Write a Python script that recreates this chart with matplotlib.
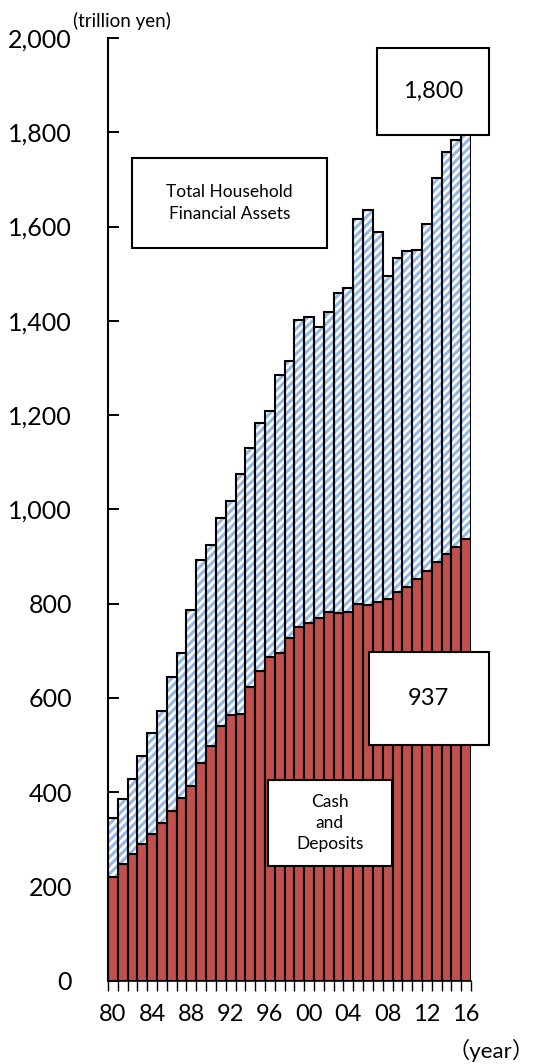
import numpy as np
import matplotlib
matplotlib.use("Agg")
import matplotlib.pyplot as plt
from matplotlib.patches import Rectangle

plt.rcParams['font.family'] = ['Lato', 'DejaVu Sans']
plt.rcParams['hatch.linewidth'] = 2.2

# household financial assets, trillion yen
years = list(range(1980, 2017))
total = [344, 385, 428, 477, 526, 572, 643, 696, 786, 892,
         924, 981, 1018, 1075, 1131, 1182, 1208, 1285, 1315, 1402,
         1409, 1387, 1419, 1458, 1469, 1615, 1636, 1589, 1496, 1534,
         1548, 1550, 1605, 1702, 1759, 1784, 1800]
cash = [219, 247, 268, 289, 311, 334, 360, 388, 413, 461,
        498, 539, 563, 565, 623, 657, 687, 696, 727, 751,
        758, 770, 782, 780, 783, 800, 796, 803, 810, 824,
        836, 851, 869, 889, 904, 920, 937]
year_labels = [str(y)[2:] for y in years if y % 4 == 0]
yticks = list(range(0, 2001, 200))

W, H = 538, 1064
fig = plt.figure(figsize=(W / 100, H / 100), dpi=100)
ax = fig.add_axes([108 / W, 1 - 980.5 / H, (471 - 108) / W, (980.5 - 38) / H])

x = np.arange(len(years))
cash = np.array(cash)
other = np.array(total) - cash

red = '#C0504D'
blue = '#95B8E4'

ax.bar(x, cash, width=1.0, color=red, edgecolor='black', linewidth=1.5, zorder=2)
ax.bar(x, other, bottom=cash, width=1.0, color='white', edgecolor=blue,
       hatch='////', linewidth=0, zorder=2)
ax.bar(x, other, bottom=cash, width=1.0, fill=False, edgecolor='black',
       linewidth=1.5, zorder=3)

ax.set_xlim(-0.5, len(years) - 0.5)
ax.set_ylim(0, 2000)

ax.spines['top'].set_visible(False)
ax.spines['right'].set_visible(False)
ax.spines['left'].set_linewidth(1.5)
ax.spines['bottom'].set_linewidth(1.2)

ax.set_yticks(yticks)
ax.set_yticklabels([f'{v:,}' for v in yticks])
ax.tick_params(axis='y', direction='in', length=8, width=1.4, pad=26,
               labelsize=18)

ax.set_xticks([i for i, y in enumerate(years) if y % 4 == 0])
ax.set_xticklabels(year_labels)
ax.set_xticks(np.arange(-0.5, len(years), 1.0), minor=True)
ax.tick_params(axis='x', which='major', length=0, pad=17, labelsize=17)
ax.tick_params(axis='x', which='minor', direction='out', length=7, width=1.0)

fig.text(73 / W, 1 - 27 / H, '(trillion yen)', fontsize=13.5, va='baseline')
fig.text(535 / W, 1 - 1050 / H, '（year）', fontsize=16, ha='right',
         va='center', family=['Lato', 'Noto Sans CJK JP'])


def box(x0, y0, x1, y1, text, size):
    fig.add_artist(Rectangle((x0 / W, 1 - y1 / H), (x1 - x0) / W, (y1 - y0) / H,
                             transform=fig.transFigure, facecolor='white',
                             edgecolor='black', linewidth=1.5, zorder=5))
    fig.text((x0 + x1) / 2 / W, 1 - (y0 + y1) / 2 / H, text, fontsize=size,
             ha='center', va='center', zorder=6, multialignment='center',
             linespacing=1.4)


box(131.7, 158.3, 327, 247.7, 'Total Household\nFinancial Assets', 12.5)
box(377.3, 48, 489.3, 135, f'{total[-1]:,}', 17)
box(369, 652.3, 488.7, 745, f'{cash[-1]}', 17)
box(268, 780, 391.7, 866, 'Cash\nand\nDeposits', 12.5)

fig.savefig('out.png', dpi=100)
